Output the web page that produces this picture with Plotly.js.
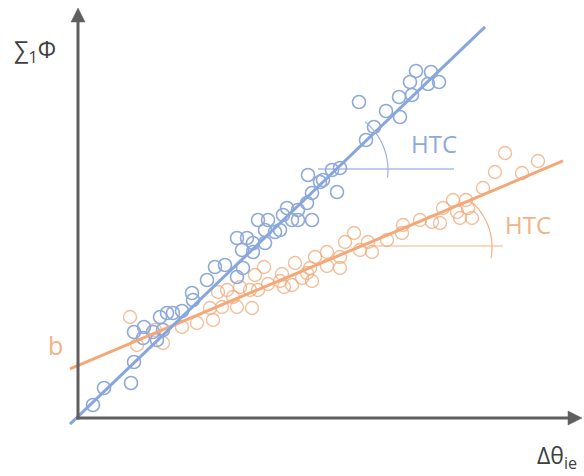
<!DOCTYPE html>
<html>
<head>
<meta charset="utf-8">
<script src="https://cdn.plot.ly/plotly-3.0.1.min.js"></script>
<style>
  html, body { margin: 0; padding: 0; background: #fff; }
  #chart { width: 584px; height: 476px; }
</style>
</head>
<body>
<div id="chart"></div>
<script>
// Measured samples: temperature difference vs. accumulated heat flux
const blueX = [15, 26, 53, 56, 56, 65, 66, 75, 79, 82, 85, 89, 95, 104, 114, 115, 129, 137, 147, 159,
  165, 159, 169, 164, 175, 175, 187, 180, 190, 187, 197, 202, 205, 209, 214, 229, 220, 234, 220, 230,
  242, 254, 262, 245, 259, 234, 281, 288, 296, 308, 321, 322, 334, 332, 338, 353, 350, 361];
const blueY = [13, 30, 35, 56, 86, 80, 91, 86, 78, 101, 88, 105, 105, 107, 125, 118, 138, 151, 153, 141,
  150, 180, 180, 168, 166, 175, 175, 198, 198, 188, 186, 188, 203, 210, 198, 215, 198, 198, 208, 243,
  236, 248, 250, 238, 226, 225, 316, 278, 291, 307, 321, 301, 323, 336, 347, 346, 334, 336];

const orangeX = [52, 59, 85, 77, 104, 119, 135, 132, 140, 149, 155, 159, 144, 162, 172, 174, 177, 180,
  186, 190, 202, 204, 206, 214, 217, 224, 229, 232, 234, 237, 249, 249, 262, 262, 267, 276, 282, 290,
  294, 309, 324, 325, 342, 354, 362, 365, 375, 379, 382, 388, 390, 394, 405, 417, 427, 444, 460];
const orangeY = [101, 73, 75, 88, 91, 95, 98, 110, 126, 128, 121, 111, 111, 131, 128, 110, 143, 128,
  151, 134, 137, 144, 131, 133, 155, 140, 145, 150, 137, 161, 166, 152, 150, 161, 176, 185, 168, 176,
  166, 178, 185, 193, 198, 196, 195, 210, 218, 206, 200, 218, 210, 200, 230, 246, 265, 245, 257];

// Trend lines: slope, intercept, x extent
const blueFit = { slope: 0.957, intercept: 1.6, xFrom: -8, xTo: 407 };
const orangeFit = { slope: 0.422, intercept: 52.4, xFrom: -8, xTo: 485 };

// Angle markers: centre, radius, start/end angle (deg), reference line extent
const blueAngle = { cx: 248, cy: 248, r: 62, a0: -7, a1: 51, hx0: 240, hx1: 376, hy: 249 };
const orangeAngle = { cx: 354, cy: 171, r: 60, a0: -11, a1: 48, hx0: 294, hx1: 425, hy: 172 };

const BLUE = '#8eaadb';
const BLUE_LINE = '#88a6de';
const ORANGE = '#f4b183';
const ORANGE_LINE = '#f5a877';
const AXIS = '#5f5f5f';
const FONT = 'Open Sans, DejaVu Sans, sans-serif';

function fitLine(f) {
  return { x: [f.xFrom, f.xTo], y: [f.slope * f.xFrom + f.intercept, f.slope * f.xTo + f.intercept] };
}

function arcPath(a) {
  const n = 40;
  let p = '';
  for (let i = 0; i <= n; i++) {
    const t = (a.a0 + (a.a1 - a.a0) * i / n) * Math.PI / 180;
    const x = a.cx + a.r * Math.cos(t);
    const y = a.cy + a.r * Math.sin(t);
    p += (i === 0 ? 'M ' : ' L ') + x.toFixed(2) + ',' + y.toFixed(2);
  }
  return p;
}

const bl = fitLine(blueFit);
const ol = fitLine(orangeFit);

const traces = [
  {
    x: orangeX, y: orangeY, type: 'scatter', mode: 'markers', hoverinfo: 'skip',
    marker: { symbol: 'circle', size: 13, color: 'rgba(0,0,0,0)',
              line: { color: 'rgba(240,168,120,0.75)', width: 1.4 } }
  },
  {
    x: blueX, y: blueY, type: 'scatter', mode: 'markers', hoverinfo: 'skip',
    marker: { symbol: 'circle', size: 13, color: 'rgba(0,0,0,0)',
              line: { color: BLUE, width: 1.6 } }
  },
  {
    x: ol.x, y: ol.y, type: 'scatter', mode: 'lines', hoverinfo: 'skip',
    line: { color: ORANGE_LINE, width: 3 }
  },
  {
    x: bl.x, y: bl.y, type: 'scatter', mode: 'lines', hoverinfo: 'skip',
    line: { color: BLUE_LINE, width: 3 }
  }
];

const shapes = [
  // reference horizontals and angle arcs
  { type: 'line', xref: 'x', yref: 'y', x0: blueAngle.hx0, x1: blueAngle.hx1, y0: blueAngle.hy, y1: blueAngle.hy,
    line: { color: '#a9bde6', width: 1.5 }, layer: 'below' },
  { type: 'path', xref: 'x', yref: 'y', path: arcPath(blueAngle), line: { color: '#9db3e0', width: 1.2 } },
  { type: 'line', xref: 'x', yref: 'y', x0: orangeAngle.hx0, x1: orangeAngle.hx1, y0: orangeAngle.hy, y1: orangeAngle.hy,
    line: { color: '#f8cbad', width: 1.5 }, layer: 'below' },
  { type: 'path', xref: 'x', yref: 'y', path: arcPath(orangeAngle), line: { color: ORANGE, width: 1.2 } },
  // axes with arrowheads
  { type: 'line', xref: 'x', yref: 'y', x0: 0, x1: 0, y0: -1.5, y1: 398, line: { color: AXIS, width: 3 } },
  { type: 'path', xref: 'x', yref: 'y', path: 'M -7,396 L 7,396 L 0,410 Z', fillcolor: AXIS, line: { color: AXIS, width: 0.5 } },
  { type: 'line', xref: 'x', yref: 'y', x0: -1.5, x1: 492, y0: 0, y1: 0, line: { color: AXIS, width: 3 } },
  { type: 'path', xref: 'x', yref: 'y', path: 'M 490,7 L 490,-7 L 504,0 Z', fillcolor: AXIS, line: { color: AXIS, width: 0.5 } }
];

const annotations = [
  { x: -43, y: 368, xref: 'x', yref: 'y', text: '∑<sub>1</sub>Φ', showarrow: false,
    font: { family: FONT, size: 23, color: '#404040' } },
  { x: 501, y: -38, xref: 'x', yref: 'y', xanchor: 'right', text: 'Δθ<sub>ie</sub>', showarrow: false,
    font: { family: FONT, size: 23, color: '#404040' } },
  { x: -23, y: 73, xref: 'x', yref: 'y', text: 'b', showarrow: false,
    font: { family: FONT, size: 25, color: ORANGE } },
  { x: 356, y: 275, xref: 'x', yref: 'y', text: 'HTC', showarrow: false,
    font: { family: FONT, size: 24, color: BLUE } },
  { x: 450, y: 194, xref: 'x', yref: 'y', text: 'HTC', showarrow: false,
    font: { family: FONT, size: 24, color: ORANGE } }
];

const layout = {
  width: 584, height: 476,
  margin: { l: 0, r: 0, t: 0, b: 0 },
  paper_bgcolor: '#ffffff', plot_bgcolor: '#ffffff',
  showlegend: false,
  xaxis: { range: [-78, 506], visible: false, fixedrange: true },
  yaxis: { range: [-58, 418], visible: false, fixedrange: true },
  shapes: shapes,
  annotations: annotations
};

Plotly.newPlot('chart', traces, layout, { staticPlot: true, displayModeBar: false });
</script>
</body>
</html>
